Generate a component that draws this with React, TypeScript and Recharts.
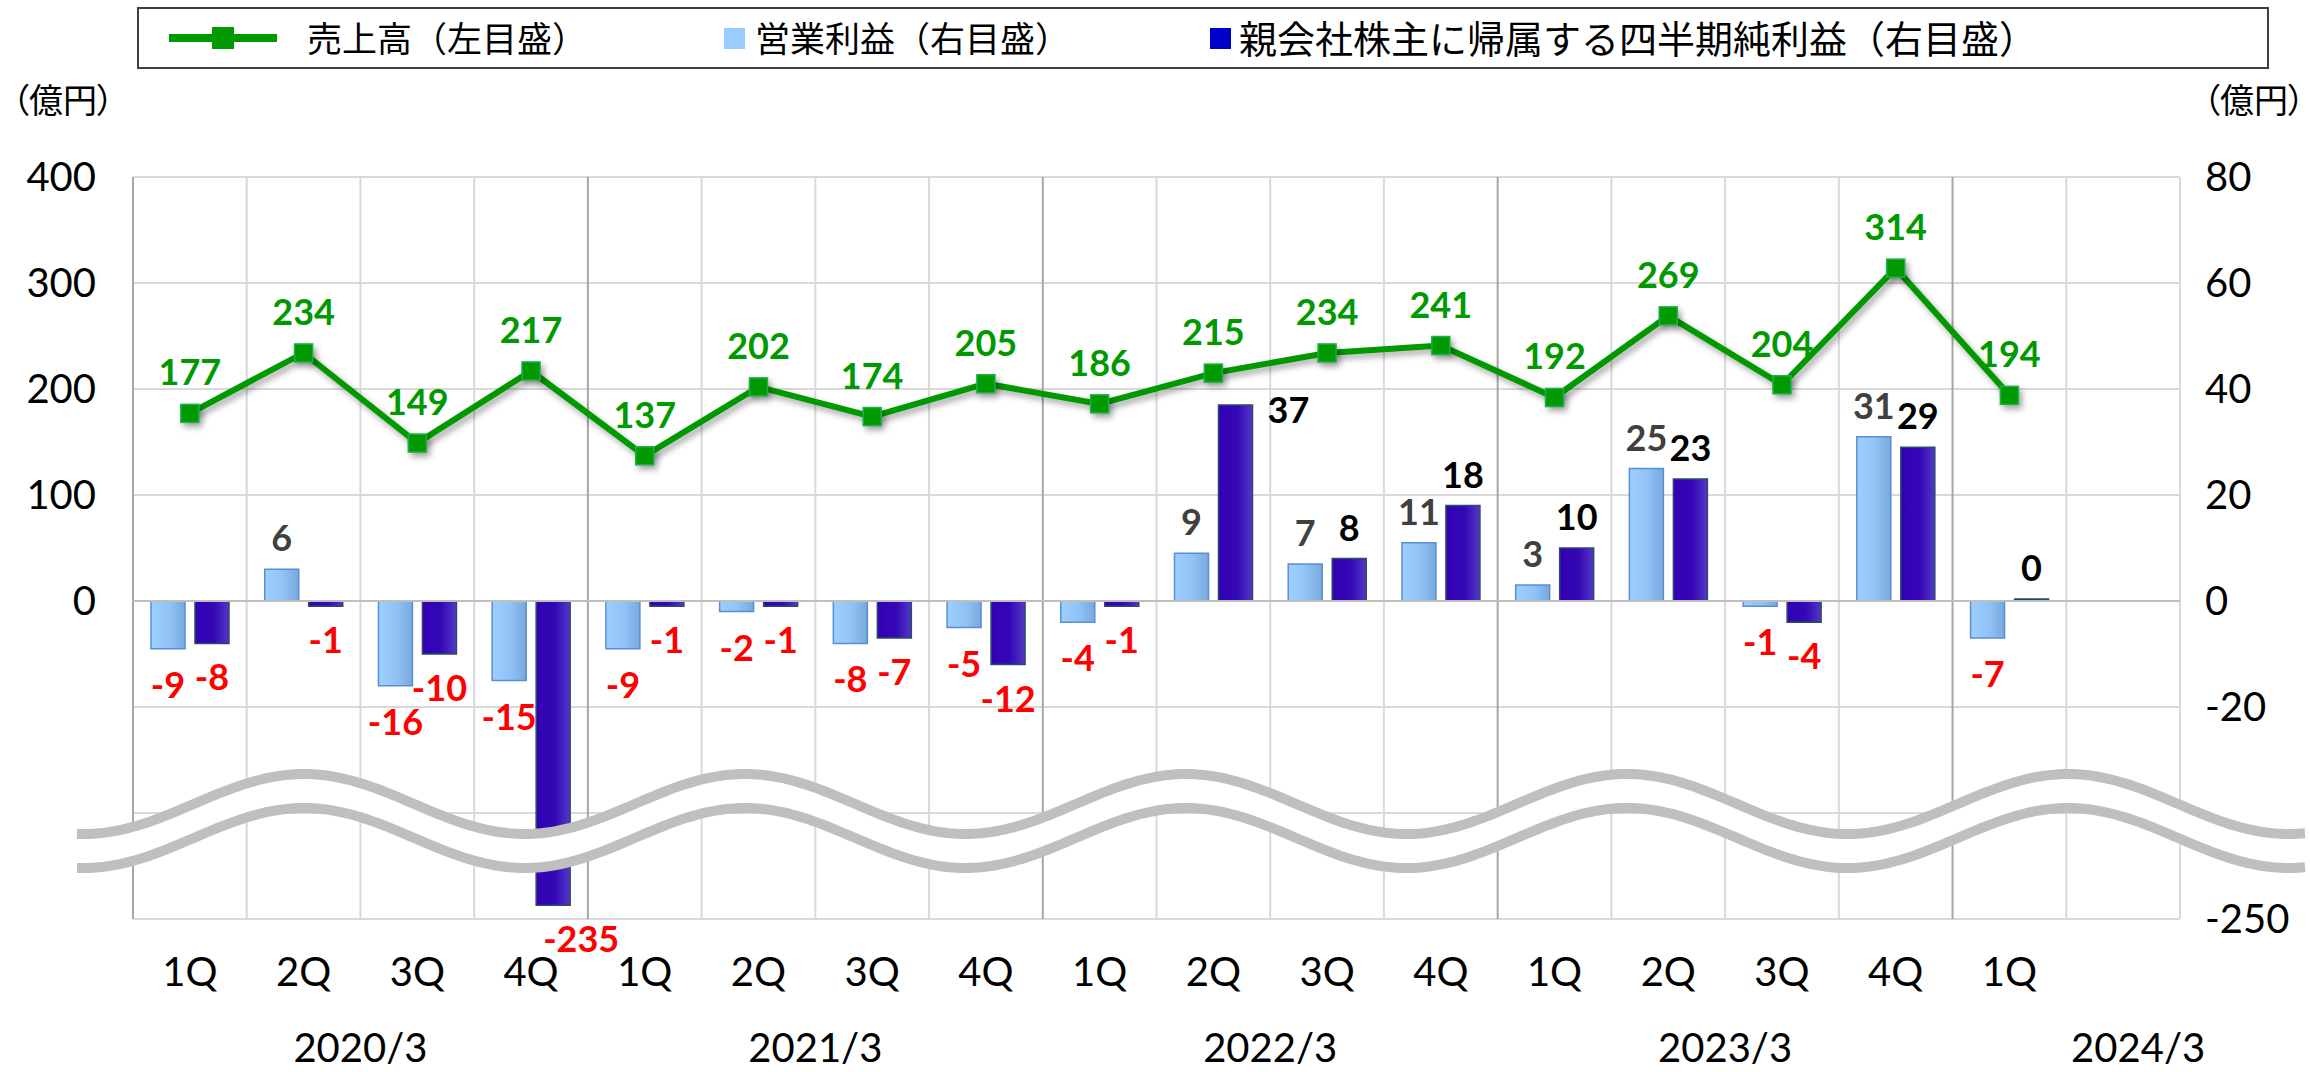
import React from 'react';
import { ComposedChart, Bar, Line, XAxis, YAxis, CartesianGrid, ReferenceLine, LabelList } from 'recharts';

// 18 slots: 17 quarters with data plus one empty slot in 2024/3
const quarters = ['1Q', '2Q', '3Q', '4Q', '1Q', '2Q', '3Q', '4Q', '1Q', '2Q', '3Q', '4Q', '1Q', '2Q', '3Q', '4Q', '1Q', ''];
const fiscalYears = [
  '2020/3', '2020/3', '2020/3', '2020/3',
  '2021/3', '2021/3', '2021/3', '2021/3',
  '2022/3', '2022/3', '2022/3', '2022/3',
  '2023/3', '2023/3', '2023/3', '2023/3',
  '2024/3', '2024/3',
];
const sales = [177, 234, 149, 217, 137, 202, 174, 205, 186, 215, 234, 241, 192, 269, 204, 314, 194, null];
const operatingProfit = [-9, 6, -16, -15, -9, -2, -8, -5, -4, 9, 7, 11, 3, 25, -1, 31, -7, null];
const netIncome = [-8, -1, -10, -235, -1, -1, -7, -12, -1, 37, 8, 18, 10, 23, -4, 29, 0, null];

const leftTicks = [-300, -200, -100, 0, 100, 200, 300, 400];
const rightTicks = [-250, -20, 0, 20, 40, 60, 80];

// broken right axis: below -20 the scale is squeezed so -250 lands on the bottom line
const BREAK_AT = -20;
const BREAK_FACTOR = 40 / 230;
const toDisplay = (v: number) => (v >= BREAK_AT ? v : BREAK_AT + (v - BREAK_AT) * BREAK_FACTOR);

const W = 2310;
const H = 1072;
const PLOT_L = 133;
const PLOT_R = 2180;
const SLOT = (PLOT_R - PLOT_L) / quarters.length;

const GREEN = '#009900';
const NUM_FONT = 'Lato, "Noto Sans", sans-serif';
const JP_FONT = '"Noto Sans CJK JP", "Noto Sans", sans-serif';

const rows = quarters.map((q, i) => ({
  key: `${fiscalYears[i]}-${i}`,
  sales: sales[i],
  op: operatingProfit[i],
  net: netIncome[i] == null ? null : toDisplay(netIncome[i] as number),
  netRaw: netIncome[i],
}));

const rightDisplayTicks = rightTicks.map(toDisplay);
const rightTickText = (v: number) => {
  const idx = rightDisplayTicks.findIndex((d) => Math.abs(d - v) < 1e-6);
  return idx >= 0 ? String(rightTicks[idx]) : '';
};

const XTick = (props: any) => {
  const { x, y, payload } = props;
  const i = payload.index ?? props.index;
  let yearX: number | null = null;
  if (i === 0 || fiscalYears[i] !== fiscalYears[i - 1]) {
    const n = fiscalYears.filter((f) => f === fiscalYears[i]).length;
    yearX = n >= 4 ? x + ((n - 1) / 2) * SLOT : x + (n - 1) * SLOT + 15;
  }
  return (
    <g>
      <text x={x} y={y + 67} textAnchor="middle" fontSize={40} fontFamily={NUM_FONT} fill="#000">
        {quarters[i]}
      </text>
      {yearX != null && (
        <text x={yearX} y={y + 143} textAnchor="middle" fontSize={40} fontFamily={NUM_FONT} fill="#000">
          {fiscalYears[i]}
        </text>
      )}
    </g>
  );
};

const SquareDot = (props: any) => {
  const { cx, cy } = props;
  if (cx == null || cy == null || props.value == null) return null;
  return <rect x={cx - 9} y={cy - 9} width={18} height={18} fill={GREEN} stroke="#1DB04A" strokeWidth={1.5} />;
};

const labelStyle = { fontSize: 36, fontWeight: 700, fontFamily: NUM_FONT };

const opLabel = (p: any) => {
  const { x, y, width, height, value } = p;
  if (value == null) return null;
  const top = Math.min(y, y + height);
  const bottom = Math.max(y, y + height);
  const cx = x + width / 2;
  if (value >= 0) {
    return <text x={cx} y={top - 18} textAnchor="middle" fill="#404040" style={labelStyle}>{value}</text>;
  }
  return <text x={cx} y={bottom + 49} textAnchor="middle" fill="#FF0000" style={labelStyle}>{value}</text>;
};

const netLabel = (p: any) => {
  const { x, y, width, height, value } = p;
  if (value == null) return null;
  const top = Math.min(y, y + height);
  const bottom = Math.max(y, y + height);
  const cx = x + width / 2;
  if (value >= 35) {
    return <text x={x + width + 15} y={top + 18} textAnchor="start" fill="#000" style={labelStyle}>{value}</text>;
  }
  if (value >= 0) {
    return <text x={cx} y={top - 18} textAnchor="middle" fill="#000" style={labelStyle}>{value}</text>;
  }
  // bars running into the axis break get their label nudged clear of the quarter tick
  const dx = value < BREAK_AT ? 28 : 0;
  return <text x={cx + dx} y={bottom + 47} textAnchor="middle" fill="#FF0000" style={labelStyle}>{value}</text>;
};

const salesLabel = (p: any) => {
  const { x, y, value } = p;
  if (value == null) return null;
  return <text x={x} y={y - 28} textAnchor="middle" fill={GREEN} style={labelStyle}>{value}</text>;
};

// wave-shaped break mark across the plot
const waveLine = (base: number) => {
  const pts: string[] = [];
  for (let x = 77; x <= 2305; x += 4) {
    const yy = base - 30 * Math.cos((2 * Math.PI * (x - 304)) / 441);
    pts.push(`${x},${yy.toFixed(1)}`);
  }
  return pts;
};
const waveTop = waveLine(804);
const waveBottom = waveLine(838);

const BreakMark = () => (
  <svg width={W} height={H} style={{ position: 'absolute', left: 0, top: 0, pointerEvents: 'none' }}>
    <polygon points={[...waveTop, ...waveBottom.slice().reverse()].join(' ')} fill="#fff" />
    <polyline points={waveTop.join(' ')} fill="none" stroke="#BFBFBF" strokeWidth={10} />
    <polyline points={waveBottom.join(' ')} fill="none" stroke="#BFBFBF" strokeWidth={10} />
  </svg>
);

const jpText: React.CSSProperties = { fontFamily: JP_FONT, color: '#000' };
const legendText: React.CSSProperties = { position: 'absolute', top: 3, lineHeight: '50px', whiteSpace: 'nowrap' };

const Legend = () => (
  <div
    style={{
      ...jpText,
      position: 'absolute', left: 137, top: 7, width: 2128, height: 58,
      border: '2px solid #404040',
    }}
  >
    <div style={{ position: 'absolute', left: 30, top: 25, width: 108, height: 8, background: GREEN }} />
    <div style={{ position: 'absolute', left: 73, top: 18, width: 22, height: 22, background: GREEN }} />
    <div style={{ ...legendText, left: 168, fontSize: 35 }}>売上高（左目盛）</div>
    <div style={{ position: 'absolute', left: 585, top: 19, width: 21, height: 21, background: '#99CCFF' }} />
    <div style={{ ...legendText, left: 616, fontSize: 35 }}>営業利益（右目盛）</div>
    <div style={{ position: 'absolute', left: 1071, top: 19, width: 21, height: 21, background: '#0000CC' }} />
    <div style={{ ...legendText, left: 1100, fontSize: 38 }}>親会社株主に帰属する四半期純利益（右目盛）</div>
  </div>
);

export default function App() {
  return (
    <div style={{ position: 'absolute', left: 0, top: 0, width: W, height: H, background: '#fff', overflow: 'hidden' }}>
      <style>{`.recharts-line-curve, .recharts-line-dots { filter: drop-shadow(3px 4px 3px rgba(0,0,0,0.35)); }`}</style>
      <ComposedChart
        width={W}
        height={H}
        data={rows}
        margin={{ top: 177, right: 20, bottom: 3, left: 33 }}
        barSize={34}
        barGap={10}
      >
        <defs>
          <linearGradient id="gradOp" x1="0" y1="0" x2="1" y2="0">
            <stop offset="0%" stopColor="#9DCFFF" />
            <stop offset="55%" stopColor="#90C2F5" />
            <stop offset="100%" stopColor="#78A8DC" />
          </linearGradient>
          <linearGradient id="gradNet" x1="0" y1="0" x2="1" y2="0">
            <stop offset="0%" stopColor="#3300B4" />
            <stop offset="55%" stopColor="#3408B6" />
            <stop offset="100%" stopColor="#5438C6" />
          </linearGradient>
        </defs>
        <CartesianGrid yAxisId="left" vertical={false} stroke="#D9D9D9" strokeWidth={2} />
        <XAxis
          dataKey="key"
          interval={0}
          height={150}
          tickSize={0}
          tickMargin={0}
          axisLine={false}
          tickLine={false}
          tick={<XTick />}
        />
        <YAxis
          yAxisId="left"
          domain={[-300, 400]}
          ticks={leftTicks}
          width={100}
          tickSize={0}
          tickMargin={37}
          axisLine={false}
          tickLine={false}
          tickFormatter={(v: number) => (v < 0 ? '' : String(v))}
          tick={{ fontSize: 40, fill: '#000', fontFamily: NUM_FONT }}
        />
        <YAxis
          yAxisId="right"
          orientation="right"
          domain={[-60, 80]}
          ticks={rightDisplayTicks}
          width={110}
          tickSize={0}
          tickMargin={25}
          axisLine={false}
          tickLine={false}
          tickFormatter={rightTickText}
          tick={{ fontSize: 40, fill: '#000', fontFamily: NUM_FONT, textAnchor: 'start' }}
        />
        {rows.map((r, i) => {
          const yearStart = i === 0 || fiscalYears[i] !== fiscalYears[i - 1];
          return (
            <ReferenceLine
              key={r.key}
              yAxisId="left"
              x={r.key}
              position="start"
              stroke={yearStart ? '#A6A6A6' : '#D9D9D9'}
              strokeWidth={2}
            />
          );
        })}
        <ReferenceLine yAxisId="left" x={rows[rows.length - 1].key} position="end" stroke="#D9D9D9" strokeWidth={2} />
        <ReferenceLine yAxisId="left" y={0} stroke="#BFBFBF" strokeWidth={2} />
        <Bar yAxisId="right" dataKey="op" fill="url(#gradOp)" stroke="#5A8ED4" strokeWidth={1.5} isAnimationActive={false}>
          <LabelList dataKey="op" content={opLabel} />
        </Bar>
        <Bar
          yAxisId="right"
          dataKey="net"
          fill="url(#gradNet)"
          stroke="#2C4A6E"
          strokeWidth={1.5}
          minPointSize={(v: any) => (v === 0 ? 2 : 0)}
          isAnimationActive={false}
        >
          <LabelList dataKey="netRaw" content={netLabel} />
        </Bar>
        <Line
          yAxisId="left"
          dataKey="sales"
          stroke={GREEN}
          strokeWidth={6}
          dot={<SquareDot />}
          activeDot={false}
          isAnimationActive={false}
        >
          <LabelList dataKey="sales" content={salesLabel} />
        </Line>
      </ComposedChart>
      <BreakMark />
      <Legend />
      <div style={{ ...jpText, fontFeatureSettings: '"palt"', position: 'absolute', left: 12, top: 74, fontSize: 34 }}>（億円）</div>
      <div style={{ ...jpText, fontFeatureSettings: '"palt"', position: 'absolute', left: 2203, top: 74, fontSize: 34 }}>（億円）</div>
    </div>
  );
}
